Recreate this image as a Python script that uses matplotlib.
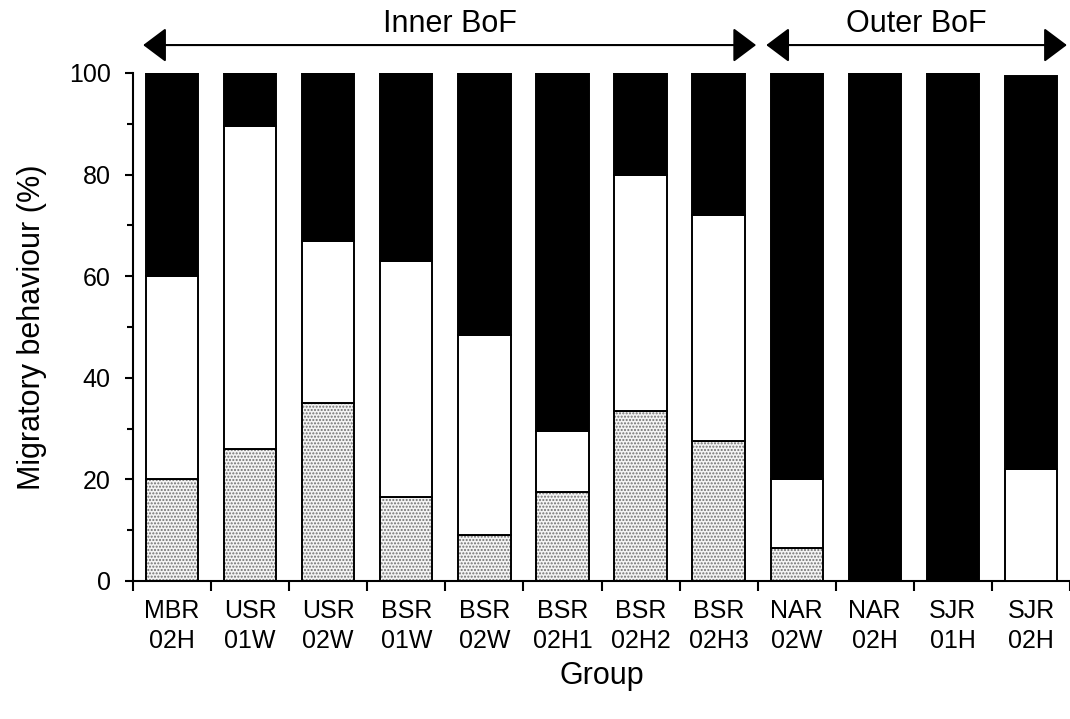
import numpy as np
import matplotlib
matplotlib.use("Agg")
import matplotlib.pyplot as plt

plt.rcParams['font.family'] = ['Liberation Sans', 'DejaVu Sans']

groups = ["MBR\n02H", "USR\n01W", "USR\n02W", "BSR\n01W", "BSR\n02W", "BSR\n02H1",
          "BSR\n02H2", "BSR\n02H3", "NAR\n02W", "NAR\n02H", "SJR\n01H", "SJR\n02H"]
dotted = [20, 26, 35, 16.5, 9, 17.5, 33.5, 27.5, 6.5, 0, 0, 0]
white = [40, 63.5, 32, 46.5, 39.5, 12, 46.5, 44.5, 13.5, 0, 0, 22]
black = [40, 10.5, 33, 37, 51.5, 70.5, 20, 28, 80, 100, 100, 77.5]
regions = ["Inner BoF", "Outer BoF"]
region_spans = [(0, 7), (8, 11)]
yticks = [0, 20, 40, 60, 80, 100]

fig = plt.figure(figsize=(10.70, 7.19), dpi=100)
ax = fig.add_axes([133/1070, 1-581/719, 1-133/1070, (581-73)/719])

x = np.arange(len(groups))
w = 0.67
dotted = np.array(dotted, float)
white = np.array(white, float)
black = np.array(black, float)

# dotted segment: hatch layer then outline
ax.bar(x, dotted, w, color='#f4f4f4', edgecolor='#707070', linewidth=0, hatch='.....', zorder=2)
ax.bar(x, dotted, w, fill=False, edgecolor='black', linewidth=1.4, zorder=3)
ax.bar(x, white, w, bottom=dotted, color='white', edgecolor='black', linewidth=1.4, zorder=3)
ax.bar(x, black, w, bottom=dotted+white, color='black', edgecolor='black', linewidth=1.4, zorder=3)

ax.set_xlim(-0.5, 11.5)
ax.set_ylim(0, 100)
for s in ['top', 'right']:
    ax.spines[s].set_visible(False)
for s in ['left', 'bottom']:
    ax.spines[s].set_linewidth(1.5)

ax.set_yticks(yticks)
ax.set_yticks(np.arange(10, 100, 20), minor=True)
ax.tick_params(axis='y', which='major', length=6, width=1.5, labelsize=18, pad=10)
ax.tick_params(axis='y', which='minor', length=4, width=1.5)

ax.set_xticks(x)
ax.set_xticklabels(groups, fontsize=18, linespacing=1.32)
ax.set_xticks(np.arange(-0.5, 12, 1), minor=True)
ax.tick_params(axis='x', which='major', length=0, pad=13)
ax.tick_params(axis='x', which='minor', length=7, width=1.5)

ax.set_ylabel("Migratory behaviour (%)", fontsize=22, labelpad=16)
ax.set_xlabel("Group", fontsize=22, labelpad=6)

arrow_y = 105.5
offsets = [(0.13, -0.02), (0.11, -0.04)]
for name, (a, b), (oa, ob) in zip(regions, region_spans, offsets):
    x0 = a - 0.5 + oa
    x1 = b + 0.5 + ob
    ax.annotate('', xy=(x1, arrow_y), xytext=(x0, arrow_y), annotation_clip=False,
                arrowprops=dict(arrowstyle='<|-|>,head_length=0.48,head_width=0.36',
                                mutation_scale=30, lw=1.5, color='black',
                                shrinkA=0, shrinkB=0))
    ax.text((x0 + x1) / 2, 108, name, ha='center', va='baseline', fontsize=22, clip_on=False)

fig.savefig("out.png", dpi=100)
